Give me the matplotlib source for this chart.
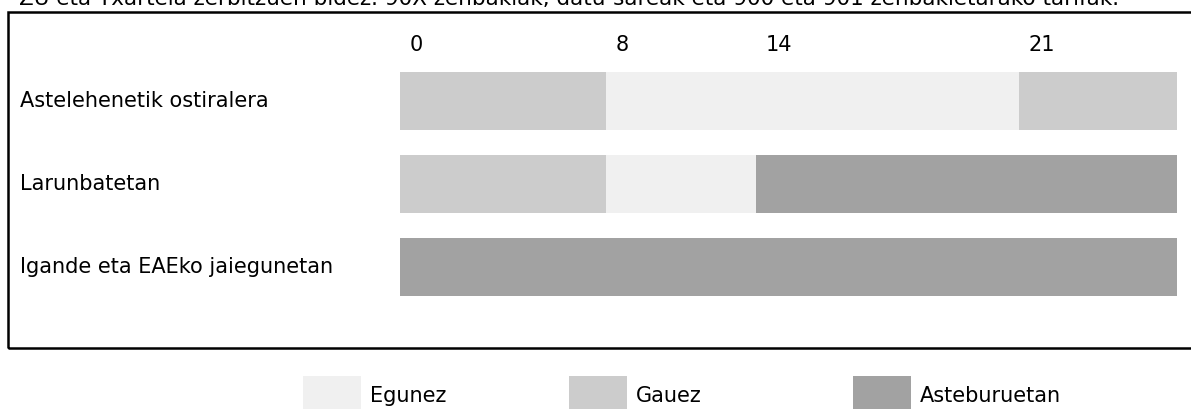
import matplotlib.pyplot as plt
import numpy as np
from matplotlib.patches import Rectangle
from matplotlib.transforms import blended_transform_factory, offset_copy

# datuak
row_labels = ["Astelehenetik ostiralera", "Larunbatetan", "Igande eta EAEko jaiegunetan"]
weekday_bounds = [0, 8, 21, 24]
weekday_kinds = ["Gauez", "Egunez", "Gauez"]
saturday_bounds = [0, 8, 14, 24]
saturday_kinds = ["Gauez", "Egunez", "Asteburuetan"]
sunday_bounds = [0, 24]
sunday_kinds = ["Asteburuetan"]
hour_ticks = [0, 8, 14, 21]
legend_labels = ["Egunez", "Gauez", "Asteburuetan"]
title_text = ("ZU eta Txartela zerbitzuen bidez. 90X zenbakiak, datu-sareak eta "
              "900 eta 901 zenbakietarako tarifak.")

colors = {"Egunez": "#f0f0f0", "Gauez": "#cccccc", "Asteburuetan": "#a2a2a2"}

# ardatzaren eskala ez da lineala (irudian bezala)
scale_hours = [0, 8, 14, 21, 24]
scale_pos = [0, 206, 356, 619, 777]


def fwd(h):
    return np.interp(h, scale_hours, scale_pos)


def inv(p):
    return np.interp(p, scale_pos, scale_hours)


W, H = 1191, 409
fig = plt.figure(figsize=(W / 100, H / 100), dpi=100)
fs = 15

# kanpoko koadroa
fig.patches.append(Rectangle((8 / W, (H - 348) / H), 1200 / W, 336 / H,
                             transform=fig.transFigure, fill=False,
                             edgecolor="black", linewidth=1.8))

# goiko testua (moztuta, jatorrizkoan bezala)
fig.text(19 / W, (H - 5) / H, title_text, fontsize=15.5, va="baseline", ha="left")

# barren ardatza
ax = fig.add_axes([400 / W, (H - 308.5) / H, 777 / W, 249 / H])
ax.set_xscale("function", functions=(fwd, inv))
ax.set_xlim(0, 24)
ax.set_ylim(2.5, -0.5)
ax.axis("off")

rows = [(weekday_bounds, weekday_kinds), (saturday_bounds, saturday_kinds),
        (sunday_bounds, sunday_kinds)]
for i, (bounds, kinds) in enumerate(rows):
    for s, e, k in zip(bounds[:-1], bounds[1:], kinds):
        ax.barh(i, e - s, left=s, height=0.69, color=colors[k], linewidth=0)

# orduen etiketak
tt = offset_copy(blended_transform_factory(ax.transData, fig.transFigure),
                 fig=fig, x=10, y=0, units="dots")
for h in hour_ticks:
    ax.text(h, (H - 45) / H, str(h), transform=tt, fontsize=fs,
            ha="left", va="center")

# errenkaden etiketak
lt = blended_transform_factory(fig.transFigure, ax.transData)
for i, lab in enumerate(row_labels):
    ax.text(20 / W, i, lab, transform=lt, fontsize=fs, ha="left", va="center")

# legenda
leg_x = [303, 569, 853]
for x, lab in zip(leg_x, legend_labels):
    fig.patches.append(Rectangle((x / W, 0), 58 / W, (H - 376) / H,
                                 transform=fig.transFigure,
                                 facecolor=colors[lab], edgecolor="none"))
    fig.text((x + 67) / W, (H - 396) / H, lab, fontsize=fs, ha="left", va="center")

fig.savefig("out.png", dpi=100)
